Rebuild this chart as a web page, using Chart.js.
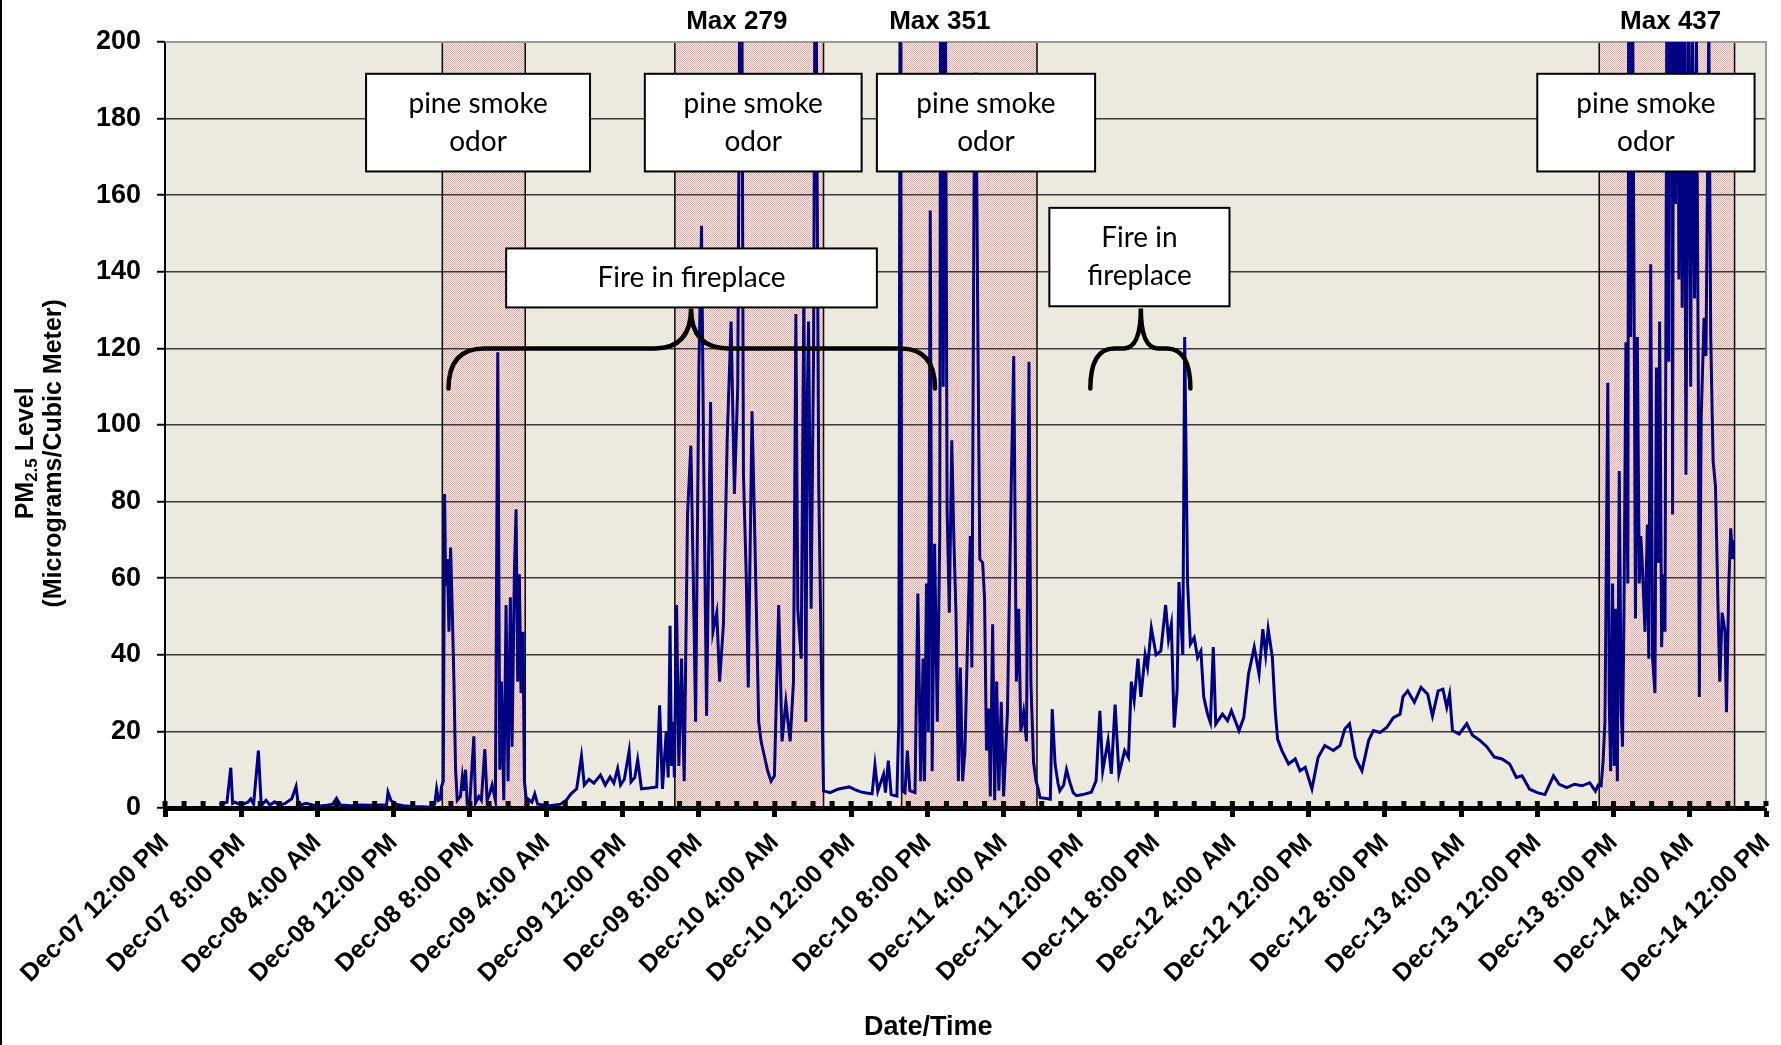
<!DOCTYPE html>
<html>
<head>
<meta charset="utf-8">
<script src="https://cdn.jsdelivr.net/npm/chart.js@4.4.1/dist/chart.umd.min.js"></script>
<style>
  html, body { margin: 0; padding: 0; background: #ffffff; }
  #wrap { width: 1781px; height: 1045px; position: relative; }
</style>
</head>
<body>
<div id="wrap"><canvas id="c" width="1781" height="1045"></canvas></div>
<script>
// ---------------- DATA ----------------
// x positions are hours after Dec-07 12:00 PM
const xTickLabels = [
  'Dec-07 12:00 PM', 'Dec-07 8:00 PM', 'Dec-08 4:00 AM', 'Dec-08 12:00 PM', 'Dec-08 8:00 PM',
  'Dec-09 4:00 AM', 'Dec-09 12:00 PM', 'Dec-09 8:00 PM', 'Dec-10 4:00 AM', 'Dec-10 12:00 PM',
  'Dec-10 8:00 PM', 'Dec-11 4:00 AM', 'Dec-11 12:00 PM', 'Dec-11 8:00 PM', 'Dec-12 4:00 AM',
  'Dec-12 12:00 PM', 'Dec-12 8:00 PM', 'Dec-13 4:00 AM', 'Dec-13 12:00 PM', 'Dec-13 8:00 PM',
  'Dec-14 4:00 AM', 'Dec-14 12:00 PM'
];
const yTickValues = [0, 20, 40, 60, 80, 100, 120, 140, 160, 180, 200];

const sampleHours = [
  5.7, 6.5, 6.9, 7.1, 7.35, 8.0, 8.7, 9.0, 9.3, 9.8, 10.1, 10.6, 11.0, 11.5, 12.0, 12.6, 13.3, 13.75, 14.0, 14.8,
  15.5, 16.3, 17.0, 17.6, 18.0, 18.4, 19.5, 20.5, 21.5, 22.5, 23.25, 23.4, 23.7, 24.2, 25.0, 26.0, 27.0, 27.8, 28.3, 28.5,
  28.7, 28.9, 29.0,
  29.2, 29.34, 29.45, 29.62, 29.8, 29.97, 30.15, 30.32, 30.49, 30.67, 31.0, 31.2, 31.36, 31.54, 31.71, 32.0, 32.41, 32.58, 32.93, 33.2,
  33.56, 33.8, 34.1, 34.33, 34.67, 34.92, 35.13, 35.3, 35.55, 35.79, 36.0, 36.24, 36.42, 36.66, 36.84, 37.01, 37.18, 37.36, 37.57, 37.71,
  37.92,
  38.07, 38.5, 38.8, 39.1, 40.4, 41.5, 42.1, 42.6, 43.2, 43.7, 44.0, 44.5, 45.0, 45.7, 46.2, 46.7, 47.1, 47.5, 47.8, 48.2,
  48.7, 48.9, 49.3, 49.6, 50.0, 50.8, 51.6, 51.9, 52.2, 52.6, 52.8, 53.0, 53.15, 53.3, 53.45,
  53.68, 53.92, 54.2, 54.48, 54.83, 55.18, 55.43, 55.68, 56.03, 56.3, 56.5, 56.83, 57.25, 57.5, 57.9, 58.2, 58.6, 59.0, 59.4, 59.75,
  60.1, 60.45, 60.7, 61.0, 61.2, 61.6, 61.9, 62.3, 62.55, 62.9, 63.25, 63.6, 63.95, 64.4, 64.75, 65.15, 65.6, 65.95, 66.2, 66.4,
  66.76, 67.04, 67.25, 67.4, 67.53, 67.8, 68.06, 68.25, 68.6, 68.9, 69.1,
  69.2, 69.8, 70.6, 71.2, 71.8, 72.4, 73.0, 73.6, 74.2, 74.5, 74.8, 75.4, 75.6, 75.9, 76.2, 76.8, 77.0, 77.13,
  77.37, 77.65, 77.9, 78.16, 78.7, 79.0, 79.3, 79.55, 79.7, 79.9, 80.1, 80.3, 80.5, 80.76, 81.04, 81.3, 81.45, 81.66, 81.87, 82.07,
  82.3, 82.56, 82.77, 83.0, 83.25, 83.46, 83.7, 83.94, 84.2, 84.5, 84.67, 84.9, 85.1, 85.3, 85.5, 85.8, 86.0, 86.2, 86.47, 86.6,
  86.85, 87.06, 87.27, 87.5, 87.75, 88.0, 88.4, 88.8, 89.06, 89.34, 89.58, 89.8, 90.1, 90.4, 90.66, 90.86, 91.14, 91.4,
  91.6, 91.82, 92.5, 92.9, 93.1, 93.4, 93.7, 93.9, 94.3, 94.6, 94.95, 95.3, 95.65, 96.3, 97.2, 97.7, 98.1, 98.4, 98.96, 99.3,
  99.7, 100.1, 100.7, 101.1, 101.4, 101.7, 102.1, 102.4, 102.85, 103.1, 103.5, 104.0, 104.5, 105.0, 105.3, 105.6, 105.9, 106.2, 106.4, 106.8,
  107.0, 107.3, 107.6, 108.0, 108.35, 108.7, 109.0, 109.4, 109.7, 110.0, 110.26, 110.96, 111.5, 111.9, 112.7, 113.2, 113.7, 114.3, 114.8, 115.2,
  115.5, 115.76, 116.2, 116.5, 116.75, 117.2, 117.9, 118.6, 119.1, 119.65, 120.35, 121.0, 121.7, 122.6, 123.3, 123.8, 124.3, 124.9, 125.6, 126.3,
  126.8, 127.5, 128.2, 128.9, 129.6, 129.9, 130.4, 131.1, 131.8, 132.5, 133.0, 133.6, 134.1, 134.5, 134.8, 135.1, 135.8, 136.6, 137.2, 137.95,
  138.7, 139.5, 140.3, 141.1, 141.8, 142.4, 143.2, 144.0, 144.8, 145.7, 146.3, 147.1, 147.9, 148.7, 149.5, 150.1, 150.4,
  150.7, 150.9, 151.1, 151.4, 151.55, 151.7, 151.9, 152.07, 152.24, 152.4, 152.6, 152.8, 152.94, 153.1, 153.3, 153.5, 153.6, 153.8, 154.0, 154.2,
  154.3, 154.5, 154.7, 154.86, 155.0, 155.3, 155.55, 155.7, 155.9, 156.1, 156.35, 156.5, 156.7, 156.84, 157.05, 157.2, 157.4, 157.64, 157.8, 158.0,
  158.2, 158.34, 158.5, 158.7, 158.86, 159.0, 159.2, 159.4, 159.6, 159.84, 160.1, 160.25, 160.5, 160.7, 160.9, 161.0, 161.2, 161.5, 161.7, 162.0,
  162.2, 162.45, 162.7, 162.97, 163.15, 163.4, 163.7, 163.85, 164.1, 164.3, 164.5, 164.6
];
const pm25 = [
  1.0, 1.5, 10.5, 1.2, 1.5, 0.8, 1.5, 2.4, 1.0, 15.0, 0.6, 2.0, 0.8, 1.6, 0.7, 1.2, 2.4, 5.6, 0.6, 1.2,
  0.8, 0.5, 0.7, 1.0, 2.5, 0.8, 0.6, 0.8, 0.7, 0.8, 0.8, 4.1, 2.0, 1.0, 0.6, 0.4, 0.3, 0.2, 1.0, 5.0,
  2.0, 2.3, 5.5,
  7, 82, 58, 65, 46, 68, 51, 33, 10, 2, 3, 8, 4.5, 10, 1.3, 2, 18.7, 1.3, 3, 2,
  15.4, 2, 4, 6, 2, 119, 10, 33, 2, 53, 7, 55, 16, 61, 78, 33, 61, 30, 46, 7,
  2,
  2.4, 1.5, 3.7, 1.0, 0.6, 1.0, 2.0, 3.7, 5, 13.5, 6, 7.5, 6.5, 8.6, 6, 8.1, 6.5, 10.3, 6, 7.5,
  14.8, 6.8, 8, 12.6, 5, 5.2, 5.5, 26.8, 5, 20, 8, 47.6, 11, 22.5, 8,
  53, 11, 39, 7, 76.6, 94.6, 61, 22.5, 116, 152, 97, 24, 106, 46, 51, 33, 48, 97, 127, 82,
  110, 279, 87, 60, 31.5, 103.6, 70, 22.5, 17.4, 13.5, 9.6, 7, 8.4, 53, 17.4, 27.7, 17.4, 33, 129, 52,
  39, 136, 22.5, 107, 127, 52, 120, 250, 84, 33, 4.5,
  4.4, 4, 4.9, 5.2, 5.5, 4.8, 4.2, 3.9, 3.7, 11.2, 4.4, 8.8, 4, 12.4, 3.5, 3.1, 22, 210,
  4.5, 4, 15, 4.5, 4, 56, 7, 39, 7, 58.6, 20, 156, 9.6, 69, 22.5, 71, 351, 110, 230, 78,
  51, 96, 71, 51, 7, 36.7, 7, 15, 42, 71, 36.7, 164, 192, 123, 65, 64, 54.7, 15, 26, 3,
  48, 2, 33, 4.5, 27.7, 3, 25, 84, 118, 33, 52, 20, 25, 17.4, 116.5, 33, 12, 7,
  5.3, 2.7, 2.5, 2.3, 25.8, 11.5, 6.6, 4.5, 6, 10, 6.7, 4, 3.2, 3.5, 4.1, 7.1, 25.4, 9.7, 17.6, 8.9,
  27, 8.9, 15, 13.2, 33, 28, 39, 29, 40, 36.7, 47, 40, 41, 53, 44, 48, 21, 30.6, 59, 40,
  123, 59, 42.8, 44.5, 39.3, 41, 29, 24.5, 22.3, 42, 21.9, 24.5, 22.8, 25.4, 20.2, 23.6, 35, 42, 35, 46.7,
  40, 46.7, 39.3, 25.4, 18, 15, 11.5, 12.8, 9.7, 10.6, 5, 13.2, 16.3, 15, 16.3, 20.6, 22, 13.2, 9.7, 17.6,
  20.2, 19.7, 21, 23.6, 24.5, 29, 30.6, 27.6, 31.5, 29.7, 24, 30.6, 31, 26.3, 29.7, 20.2, 19.3, 22, 19, 17.7,
  16, 13.3, 12.8, 11.5, 8, 8.4, 4.9, 4, 3.5, 8.4, 6.2, 5.3, 6.2, 5.8, 6.6, 4.4, 6,
  5.8, 12, 22.5, 111, 27.7, 9.6, 58.6, 11, 52, 7, 88, 26, 16, 52, 121.6, 58.6, 230, 123, 215, 110,
  49.5, 123, 58.6, 71, 65, 46, 74, 39, 142, 39, 30, 115, 64, 127, 42, 61, 46, 250, 116.5, 437,
  76.6, 300, 157.7, 260, 138, 280, 130.6, 240, 87, 220, 110, 210, 133, 205, 110, 29, 102, 128, 118, 205,
  123, 90.7, 84, 52, 33, 51, 46, 25, 58.6, 73, 65, 70
];

// shaded "pine smoke odor" windows, in hours
const smokeStart = [29.1, 53.5, 77.3, 150.5];
const smokeEnd   = [37.8, 69.1, 91.5, 164.7];

// "Max" notes above the plot
const maxNoteText  = ['Max 279', 'Max 351', 'Max 437'];
const maxNoteHours = [60.0, 81.3, 158.0];

// ---------------- LAYOUT / STYLE (not data) ----------------
const FONT_ARIAL = '"Liberation Sans", Arial, sans-serif';
const FONT_NOTE = 'Lato, "Open Sans", sans-serif';
const notes = [
  { lines: ['pine smoke', 'odor'], h0: 21.1, h1: 44.6, v0: 191.7, v1: 166.2 },
  { lines: ['pine smoke', 'odor'], h0: 50.35, h1: 73.1, v0: 191.7, v1: 166.2 },
  { lines: ['pine smoke', 'odor'], h0: 74.7, h1: 97.6, v0: 191.7, v1: 166.2 },
  { lines: ['pine smoke', 'odor'], h0: 144.0, h1: 166.8, v0: 191.7, v1: 166.2 },
  { lines: ['Fire in fireplace'], h0: 35.8, h1: 74.7, v0: 146.1, v1: 130.7 },
  { lines: ['Fire in', 'fireplace'], h0: 92.8, h1: 111.7, v0: 156.7, v1: 131.0 }
];
const braces = [
  { left: 29.75, armL: 33.5, cuspL: 51.4, cusp: 55.2, cuspR: 59.1, armR: 77.2, right: 80.8 },
  { left: 97.1, armL: 99.6, cuspL: 100.6, cusp: 102.4, cuspR: 104.2, armR: 105.1, right: 107.6 }
];

const points = sampleHours.map((h, i) => ({ x: h, y: pm25[i] }));
const tickHours = [];
for (let h = 0; h <= 168; h += 2) tickHours.push(h);

let smokePattern = null;
function getPattern(ctx) {
  if (smokePattern) return smokePattern;
  const p = document.createElement('canvas');
  p.width = 2; p.height = 2;
  const g = p.getContext('2d');
  g.fillStyle = '#FAF1EE'; g.fillRect(0, 0, 2, 2);
  g.fillStyle = '#EEA9A5'; g.fillRect(0, 0, 1, 1); g.fillRect(1, 1, 1, 1);
  smokePattern = ctx.createPattern(p, 'repeat');
  return smokePattern;
}

const deco = {
  id: 'deco',
  beforeDraw(chart) {
    const { ctx, chartArea: a, scales: { x } } = chart;
    ctx.save();
    ctx.fillStyle = '#ECE9DF';
    ctx.fillRect(a.left, a.top, a.right - a.left, a.bottom - a.top);
    for (let i = 0; i < smokeStart.length; i++) {
      const x0 = x.getPixelForValue(smokeStart[i]);
      const x1 = x.getPixelForValue(smokeEnd[i]);
      ctx.fillStyle = getPattern(ctx);
      ctx.fillRect(x0, a.top, x1 - x0, a.bottom - a.top);
    }
    ctx.restore();
  },
  beforeDatasetsDraw(chart) {
    const { ctx, chartArea: a, scales: { x } } = chart;
    ctx.save();
    ctx.strokeStyle = '#111';
    ctx.lineWidth = 1.6;
    for (let i = 0; i < smokeStart.length; i++) {
      const x0 = x.getPixelForValue(smokeStart[i]);
      const x1 = x.getPixelForValue(smokeEnd[i]);
      ctx.strokeRect(x0, a.top, x1 - x0, a.bottom - a.top);
    }
    // gray top and right frame
    ctx.strokeStyle = '#9a9a9a';
    ctx.lineWidth = 2;
    ctx.beginPath();
    ctx.moveTo(a.left, a.top); ctx.lineTo(a.right, a.top); ctx.lineTo(a.right, a.bottom);
    ctx.stroke();
    ctx.restore();
  },
  afterDraw(chart) {
    const { ctx, chartArea: a, scales: { x, y } } = chart;
    ctx.save();
    // left page frame line
    ctx.fillStyle = '#000';
    ctx.fillRect(0, 0, 2, chart.height);

    // minor tick squares along the x axis
    ctx.fillStyle = '#000';
    tickHours.forEach(h => {
      const px = x.getPixelForValue(h);
      ctx.fillRect(px - 2.5, a.bottom - 7, 5, 5);
    });

    // braces
    ctx.strokeStyle = '#000';
    ctx.lineWidth = 4.5;
    ctx.lineCap = 'round';
    const yEnd = y.getPixelForValue(109.5);
    const yBar = y.getPixelForValue(120);
    const yTip = y.getPixelForValue(130.4);
    braces.forEach(b => {
      const X = v => x.getPixelForValue(v);
      ctx.beginPath();
      ctx.moveTo(X(b.left), yEnd);
      ctx.quadraticCurveTo(X(b.left), yBar, X(b.armL), yBar);
      ctx.lineTo(X(b.cuspL), yBar);
      ctx.quadraticCurveTo(X(b.cusp), yBar, X(b.cusp), yTip);
      ctx.quadraticCurveTo(X(b.cusp), yBar, X(b.cuspR), yBar);
      ctx.lineTo(X(b.armR), yBar);
      ctx.quadraticCurveTo(X(b.right), yBar, X(b.right), yEnd);
      ctx.stroke();
    });

    // note boxes
    notes.forEach(n => {
      const x0 = x.getPixelForValue(n.h0), x1 = x.getPixelForValue(n.h1);
      const y0 = y.getPixelForValue(n.v0), y1 = y.getPixelForValue(n.v1);
      ctx.fillStyle = '#fff';
      ctx.fillRect(x0, y0, x1 - x0, y1 - y0);
      ctx.strokeStyle = '#000';
      ctx.lineWidth = 2;
      ctx.strokeRect(x0, y0, x1 - x0, y1 - y0);
      ctx.fillStyle = '#000';
      ctx.font = '28px ' + FONT_NOTE;
      ctx.textAlign = 'center';
      ctx.textBaseline = 'middle';
      const cx = (x0 + x1) / 2, cy = (y0 + y1) / 2;
      const lh = 38;
      const start = cy - (n.lines.length - 1) * lh / 2;
      n.lines.forEach((t, i) => ctx.fillText(t, cx, start + i * lh));
    });

    // Max notes
    ctx.fillStyle = '#000';
    ctx.font = 'bold 26px ' + FONT_ARIAL;
    ctx.textAlign = 'center';
    ctx.textBaseline = 'middle';
    maxNoteText.forEach((t, i) => {
      ctx.fillText(t, x.getPixelForValue(maxNoteHours[i]), a.top - 20);
    });

    // x axis title
    ctx.font = 'bold 27px ' + FONT_ARIAL;
    ctx.fillText('Date/Time', x.getPixelForValue(80.1), chart.height - 17);

    // y axis title (two lines, with subscript)
    const cyT = a.top + (a.bottom - a.top) * 0.537;
    ctx.save();
    ctx.translate(26, cyT);
    ctx.rotate(-Math.PI / 2);
    ctx.textBaseline = 'middle';
    ctx.textAlign = 'left';
    const big = 'bold 25px ' + FONT_ARIAL, small = 'bold 17px ' + FONT_ARIAL;
    ctx.font = big; const wPM = ctx.measureText('PM').width; const wLv = ctx.measureText(' Level').width;
    ctx.font = small; const wSub = ctx.measureText('2.5').width;
    let sx = -(wPM + wSub + wLv) / 2;
    ctx.font = big; ctx.fillText('PM', sx, 0); sx += wPM;
    ctx.font = small; ctx.fillText('2.5', sx, 6); sx += wSub;
    ctx.font = big; ctx.fillText(' Level', sx, 0);
    ctx.textAlign = 'center';
    ctx.fillText('(Micrograms/Cubic Meter)', 0, 28);
    ctx.restore();

    ctx.restore();
  }
};

new Chart(document.getElementById('c'), {
  type: 'line',
  data: {
    datasets: [{
      data: points,
      borderColor: '#000080',
      borderWidth: 3,
      pointRadius: 0,
      tension: 0,
      fill: false
    }]
  },
  options: {
    responsive: false,
    animation: false,
    devicePixelRatio: 1,
    layout: { padding: { top: 42, right: 15, left: 0, bottom: 0 } },
    plugins: { legend: { display: false }, tooltip: { enabled: false } },
    scales: {
      x: {
        type: 'linear',
        min: 0,
        max: 168,
        afterBuildTicks: s => { s.ticks = tickHours.map(v => ({ value: v })); },
        afterFit: s => { s.height = 237; s.paddingLeft = 0; s.paddingRight = 0; },
        ticks: {
          autoSkip: false,
          minRotation: 45,
          maxRotation: 45,
          padding: 11,
          color: '#000',
          font: { family: FONT_ARIAL, weight: 'bold', size: 25 },
          callback: v => (v % 8 === 0 ? xTickLabels[v / 8] : '')
        },
        grid: {
          display: true,
          drawOnChartArea: false,
          drawTicks: true,
          tickLength: 9,
          tickWidth: 5,
          tickColor: c => (c.tick && c.tick.value % 8 === 0 ? '#000' : 'rgba(0,0,0,0)')
        },
        border: { display: true, color: '#000', width: 5 }
      },
      y: {
        min: 0,
        max: 200,
        afterBuildTicks: s => { s.ticks = yTickValues.map(v => ({ value: v })); },
        afterFit: s => { s.width = 165; s.paddingTop = 0; s.paddingBottom = 0; },
        ticks: {
          padding: 16,
          color: '#000',
          font: { family: FONT_ARIAL, weight: 'bold', size: 27 }
        },
        grid: {
          color: c => (c.tick && c.tick.value === 200 ? '#9a9a9a' : '#3a3a3a'),
          lineWidth: 1.5,
          drawTicks: true,
          tickLength: 8,
          tickColor: '#000',
          tickWidth: 2
        },
        border: { display: true, color: '#000', width: 2 }
      }
    }
  },
  plugins: [deco]
});
</script>
</body>
</html>
